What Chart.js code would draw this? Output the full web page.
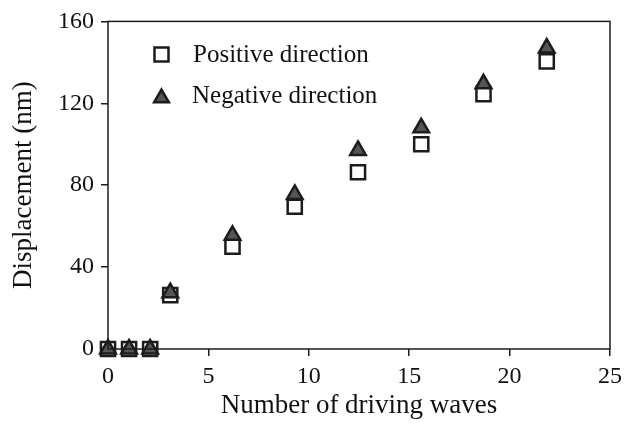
<!DOCTYPE html>
<html lang="en">

<head>
    <meta charset="UTF-8">
    <meta name="viewport" content="width=device-width, initial-scale=1.0">
    <script src="https://cdn.jsdelivr.net/npm/chart.js@4.4.1/dist/chart.umd.min.js"></script>
    <title>Displacement vs driving waves</title>
    <style>
        body { margin: 0; background: #fff; }
        canvas { display: block; }
    </style>
</head>

<body>
    <canvas id="chart" width="644" height="425"></canvas>

    <script>
        // number of driving waves (x) and measured displacement in nm
        const waves = [0, 1.05, 2.1, 3.1, 6.2, 9.3, 12.45, 15.6, 18.7, 21.85]
        const positive = [0, 0, 0, 26.3, 50, 69.5, 86.3, 100, 124.5, 140.5]
        const negative = [0, 0, 0, 27.5, 55.5, 75.5, 97, 108, 129.5, 147]

        const serif = "'Liberation Serif', 'Times New Roman', serif"
        const ink = '#1c1c1c'

        const toPoints = ys => waves.map((x, i) => ({ x: x, y: ys[i] }))

        // box round the plot area
        const frame = {
            id: 'frame',
            afterDatasetsDraw(chart) {
                const { ctx, chartArea: a } = chart
                ctx.save()
                ctx.strokeStyle = ink
                ctx.lineWidth = 1.5
                ctx.strokeRect(a.left, a.top, a.right - a.left, a.bottom - a.top)
                ctx.restore()
            }
        }

        // legend inside the plot, top left
        const insideLegend = {
            id: 'insideLegend',
            afterDraw(chart) {
                const ctx = chart.ctx
                ctx.save()
                ctx.lineWidth = 2.5
                ctx.strokeStyle = ink
                ctx.lineJoin = 'miter'

                // square
                ctx.fillStyle = '#fff'
                ctx.beginPath()
                ctx.rect(154.5, 47.5, 14, 14)
                ctx.fill()
                ctx.stroke()

                // triangle
                const cx = 161.5, cy = 98, r = 8.5
                ctx.fillStyle = '#555'
                ctx.beginPath()
                for (let k = 0; k < 3; k++) {
                    const ang = k * 2 * Math.PI / 3
                    const px = cx + Math.sin(ang) * r
                    const py = cy - Math.cos(ang) * r
                    k == 0 ? ctx.moveTo(px, py) : ctx.lineTo(px, py)
                }
                ctx.closePath()
                ctx.fill()
                ctx.stroke()

                ctx.fillStyle = '#111'
                ctx.font = `25px ${serif}`
                ctx.textBaseline = 'middle'
                ctx.textAlign = 'left'
                ctx.fillText('Positive direction', 193, 55)
                ctx.fillText('Negative direction', 192, 96)
                ctx.restore()
            }
        }

        const chart = new Chart(document.getElementById('chart'), {
            type: 'scatter',
            data: {
                datasets: [{
                    label: 'Positive direction',
                    data: toPoints(positive),
                    pointStyle: 'rect',
                    pointRadius: 10,
                    pointHoverRadius: 10,
                    backgroundColor: '#fff',
                    borderColor: ink,
                    pointBorderWidth: 2.5,
                    clip: false,
                    order: 1
                }, {
                    label: 'Negative direction',
                    data: toPoints(negative),
                    pointStyle: 'triangle',
                    pointRadius: 9,
                    pointHoverRadius: 9,
                    backgroundColor: '#555',
                    borderColor: ink,
                    pointBorderWidth: 2.5,
                    clip: false,
                    order: 0
                }]
            },
            options: {
                responsive: false,
                devicePixelRatio: 1,
                animation: false,
                layout: { padding: { top: 17, right: 34, left: 0, bottom: 0 } },
                plugins: {
                    legend: { display: false },
                    tooltip: { enabled: false }
                },
                scales: {
                    x: {
                        type: 'linear',
                        min: 0,
                        max: 25,
                        afterFit: s => { s.height = 76 },
                        border: { display: false },
                        grid: { drawOnChartArea: false, drawTicks: true, tickLength: 7, color: ink, lineWidth: 1.5 },
                        ticks: { stepSize: 5, padding: 6, color: '#111', font: { family: serif, size: 24 } },
                        title: {
                            display: true,
                            text: 'Number of driving waves',
                            color: '#111',
                            font: { family: serif, size: 27 },
                            padding: { top: 0, bottom: 3 }
                        }
                    },
                    y: {
                        min: 0,
                        max: 160,
                        afterFit: s => { s.width = 108 },
                        border: { display: false },
                        grid: { drawOnChartArea: false, drawTicks: true, tickLength: 7, color: ink, lineWidth: 1.5 },
                        ticks: { stepSize: 40, padding: 7, color: '#111', font: { family: serif, size: 24 } },
                        title: {
                            display: true,
                            text: 'Displacement (nm)',
                            color: '#111',
                            font: { family: serif, size: 27 },
                            padding: { top: 8, bottom: 0 }
                        }
                    }
                }
            },
            plugins: [frame, insideLegend]
        })
    </script>
</body>

</html>
